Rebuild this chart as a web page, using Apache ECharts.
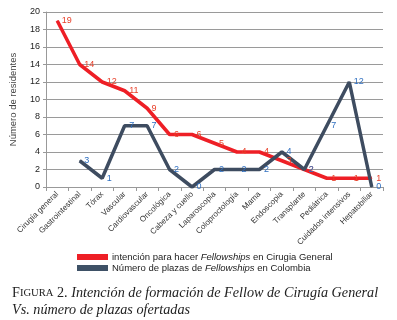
<!DOCTYPE html>
<html><head><meta charset="utf-8">
<script src="https://cdn.jsdelivr.net/npm/echarts@6/dist/echarts.min.js"></script>
<style>html,body{margin:0;padding:0;background:#fff}#c{width:397px;height:320px}</style>
</head><body><div id="c"></div>
<script>
const categories = ['Cirugía general','Gastrointestinal','Tórax','Vascular','Cardiovascular','Oncológica','Cabeza y cuello','Laparoscopia','Coloproctología','Mama','Endoscopia','Transplante','Pediátrica','Cuidados intensivos','Hepatobiliar'];
const intencion = [19,14,12,11,9,6,6,5,4,4,3,2,1,1,1];
const plazas = [null,3,1,7,7,2,0,2,2,2,4,2,7,12,0];
const yTicks = [0,2,4,6,8,10,12,14,16,18,20];

const chart = echarts.init(document.getElementById('c'));
chart.setOption({
  animation: false,
  backgroundColor: '#fff',
  textStyle: {fontFamily: 'Liberation Sans, Arial, sans-serif'},
  grid: {left: 42, right: 14, top: 12, bottom: 133},
  title: {
    left: 7, top: 280,
    text: '{sc|F}{sm|IGURA}{sc| 2. }{it|Intención de formación de Fellow de Cirugía General}\n{it|Vs. número de plazas ofertadas}',
    textStyle: {
      fontWeight: 'normal',
      rich: {
        sc: {fontFamily: 'Liberation Serif', fontWeight: 'normal', fontSize: 14.2, color: '#222', lineHeight: 17},
        sm: {fontFamily: 'Liberation Serif', fontWeight: 'normal', fontSize: 10.6, color: '#222', lineHeight: 17},
        it: {fontFamily: 'Liberation Serif', fontWeight: 'normal', fontStyle: 'italic', fontSize: 14.2, color: '#222', lineHeight: 17}
      }
    }
  },
  legend: {
    orient: 'vertical', left: 72, top: 247,
    itemWidth: 31, itemHeight: 6, itemGap: 1,
    icon: 'rect',
    data: [
      {name: 'a', itemStyle: {color: '#ee1f26'}},
      {name: 'b', itemStyle: {color: '#3e5166'}}
    ],
    formatter: function(n){
      return n === 'a'
        ? '{n|intención para hacer }{i|Fellowships}{n| en Cirugia General}'
        : '{n|Número de plazas de }{i|Fellowships}{n| en Colombia}';
    },
    textStyle: {
      padding: [0,0,0,-1],
      rich: {
        n: {fontSize: 9.5, color: '#222', lineHeight: 12},
        i: {fontSize: 9.5, color: '#222', fontStyle: 'italic', lineHeight: 12}
      }
    }
  },
  xAxis: {
    type: 'category', data: categories, boundaryGap: true,
    axisLine: {lineStyle: {color: '#999'}},
    axisTick: {show: true, length: 4, lineStyle: {color: '#999'}},
    axisLabel: {rotate: 45, fontSize: 8, color: '#333', margin: 6, interval: 0}
  },
  yAxis: {
    type: 'value', min: 0, max: 20, interval: 2,
    name: 'Número de residentes', nameLocation: 'middle', nameGap: 28,
    nameTextStyle: {fontSize: 9.5, color: '#444'},
    axisLine: {show: true, lineStyle: {color: '#999'}},
    axisTick: {show: true, length: 3, lineStyle: {color: '#999'}},
    axisLabel: {fontSize: 9, color: '#222', margin: 6,
      formatter: function(v){ return yTicks.indexOf(v) >= 0 ? String(v) : ''; }},
    splitLine: {lineStyle: {color: '#9a9a9a', width: 1}}
  },
  series: [
    {
      name: 'a', type: 'line', data: intencion,
      symbol: 'circle', symbolSize: 1, showSymbol: true,
      lineStyle: {color: '#ee1f26', width: 3.5},
      itemStyle: {color: '#ee1f26'},
      label: {show: true, position: 'right', distance: 4, fontSize: 9, color: '#e8402a'}
    },
    {
      name: 'b', type: 'line', data: plazas,
      symbol: 'circle', symbolSize: 1, showSymbol: true,
      lineStyle: {color: '#3e4c60', width: 3.5},
      itemStyle: {color: '#3e4c60'},
      label: {show: true, position: 'right', distance: 4, fontSize: 9, color: '#2f6fc0'}
    }
  ]
});
</script></body></html>
